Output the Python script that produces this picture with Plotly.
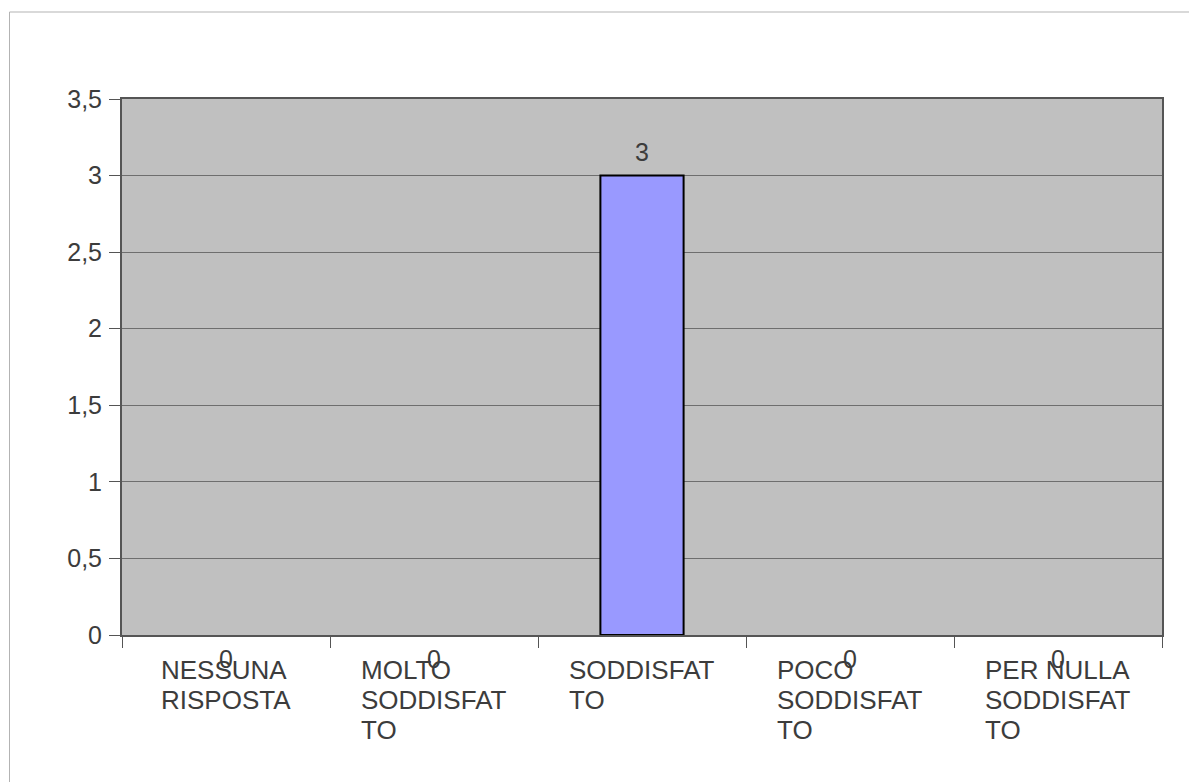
import plotly.graph_objects as go

categories = ["NESSUNA RISPOSTA", "MOLTO SODDISFATTO", "SODDISFATTO", "POCO SODDISFATTO", "PER NULLA SODDISFATTO"]
tick_labels = [["NESSUNA", "RISPOSTA"], ["MOLTO", "SODDISFAT", "TO"], ["SODDISFAT", "TO"],
               ["POCO", "SODDISFAT", "TO"], ["PER NULLA", "SODDISFAT", "TO"]]
values = [0, 0, 3, 0, 0]
y_ticks = [0, 0.5, 1, 1.5, 2, 2.5, 3, 3.5]

FONT = "Liberation Sans, Arial, sans-serif"
TXT = "#3c3c3c"

fig = go.Figure()
fig.add_trace(go.Bar(
    x=categories, y=values,
    marker=dict(color="#9999ff",
                line=dict(color="#000000", width=[2 if v > 0 else 0 for v in values])),
    width=0.4, showlegend=False, hoverinfo="skip",
))

annotations = []
for c, v in zip(categories, values):
    annotations.append(dict(
        x=c, y=v, xref="x", yref="y", text=str(v), showarrow=False,
        yanchor="bottom" if v > 0 else "top",
        yshift=8 if v > 0 else -8,
        font=dict(family=FONT, size=25, color=TXT),
    ))
for c, lines in zip(categories, tick_labels):
    txt = "<br>".join('<span style="font-size:26px">%s</span>' % ln for ln in lines)
    annotations.append(dict(
        x=c, y=0, xref="x", yref="y", text=txt, showarrow=False,
        xanchor="center", yanchor="top", align="left", yshift=-18,
        font=dict(family=FONT, size=23, color=TXT),
    ))

L, T, PW, PH = 114, 91, 1040, 536
fig.update_layout(
    width=1197, height=782,
    margin=dict(l=L, r=1197 - L - PW, t=T, b=782 - T - PH),
    paper_bgcolor="white", plot_bgcolor="#c0c0c0",
    separators=",.",
    font=dict(family=FONT, size=25, color=TXT),
    annotations=annotations,
    shapes=[
        dict(type="line", xref="paper", yref="paper",
             x0=(1.5 - L) / PW, x1=1.2, y0=1 + (T - 4) / PH, y1=1 + (T - 4) / PH,
             line=dict(color="#b3b3b3", width=1)),
        dict(type="line", xref="paper", yref="paper",
             x0=(1.5 - L) / PW, x1=(1.5 - L) / PW, y0=1 + (T - 4) / PH, y1=-0.5,
             line=dict(color="#b3b3b3", width=1)),
    ],
)
fig.update_xaxes(
    type="category", showticklabels=False, tickson="boundaries",
    ticks="outside", ticklen=11, tickcolor="#555555", tickwidth=1,
    showline=True, linecolor="#555555", linewidth=2, mirror=True,
    showgrid=False, zeroline=False,
)
fig.update_yaxes(
    range=[0, 3.5], tickvals=y_ticks, ticks="outside", ticklen=11,
    tickcolor="#555555", tickwidth=1, ticklabelstandoff=2,
    showline=True, linecolor="#555555", linewidth=2, mirror=True,
    showgrid=True, gridcolor="#6e6e6e", gridwidth=1, zeroline=False,
    tickfont=dict(family=FONT, size=25, color=TXT),
)

fig.write_html("out.html")
